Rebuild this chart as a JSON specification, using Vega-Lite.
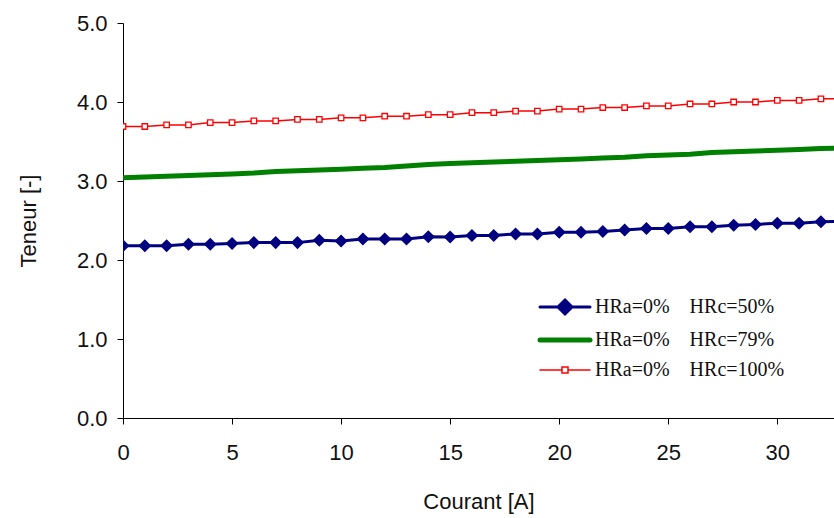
{
  "$schema": "https://vega.github.io/schema/vega-lite/v6.json",
  "width": 711,
  "height": 395,
  "autosize": {"type": "none"},
  "padding": {"left": 123, "top": 23, "right": 0, "bottom": 100},
  "background": "white",
  "config": {
    "view": {"stroke": null},
    "axis": {
      "grid": false,
      "domainColor": "#000",
      "tickColor": "#000",
      "tickSize": 6,
      "labelFont": "Liberation Sans",
      "labelFontSize": 22,
      "labelColor": "#111",
      "titleFont": "Liberation Sans",
      "titleFontSize": 22,
      "titleFontWeight": "normal",
      "titleColor": "#111",
      "labelFlush": false,
      "labelOverlap": false
    }
  },
  "data": {
    "values": [
      {"I": 0, "b": 2.18, "g": 3.04, "r": 3.69},
      {"I": 1, "b": 2.18, "g": 3.05, "r": 3.69},
      {"I": 2, "b": 2.18, "g": 3.06, "r": 3.71},
      {"I": 3, "b": 2.2, "g": 3.07, "r": 3.71},
      {"I": 4, "b": 2.2, "g": 3.08, "r": 3.74},
      {"I": 5, "b": 2.21, "g": 3.09, "r": 3.74},
      {"I": 6, "b": 2.22, "g": 3.1, "r": 3.76},
      {"I": 7, "b": 2.22, "g": 3.12, "r": 3.76},
      {"I": 8, "b": 2.22, "g": 3.13, "r": 3.78},
      {"I": 9, "b": 2.25, "g": 3.14, "r": 3.78},
      {"I": 10, "b": 2.24, "g": 3.15, "r": 3.8},
      {"I": 11, "b": 2.265, "g": 3.16, "r": 3.8},
      {"I": 12, "b": 2.265, "g": 3.17, "r": 3.82},
      {"I": 13, "b": 2.265, "g": 3.19, "r": 3.82},
      {"I": 14, "b": 2.295, "g": 3.21, "r": 3.84},
      {"I": 15, "b": 2.29, "g": 3.22, "r": 3.84},
      {"I": 16, "b": 2.31, "g": 3.23, "r": 3.865},
      {"I": 17, "b": 2.31, "g": 3.24, "r": 3.865},
      {"I": 18, "b": 2.33, "g": 3.25, "r": 3.885},
      {"I": 19, "b": 2.33, "g": 3.26, "r": 3.885},
      {"I": 20, "b": 2.35, "g": 3.27, "r": 3.91},
      {"I": 21, "b": 2.35, "g": 3.28, "r": 3.91},
      {"I": 22, "b": 2.36, "g": 3.29, "r": 3.93},
      {"I": 23, "b": 2.38, "g": 3.3, "r": 3.93},
      {"I": 24, "b": 2.4, "g": 3.32, "r": 3.95},
      {"I": 25, "b": 2.4, "g": 3.33, "r": 3.95},
      {"I": 26, "b": 2.42, "g": 3.34, "r": 3.975},
      {"I": 27, "b": 2.42, "g": 3.36, "r": 3.975},
      {"I": 28, "b": 2.44, "g": 3.37, "r": 4.0},
      {"I": 29, "b": 2.45, "g": 3.38, "r": 4.0},
      {"I": 30, "b": 2.465, "g": 3.39, "r": 4.02},
      {"I": 31, "b": 2.465, "g": 3.4, "r": 4.02},
      {"I": 32, "b": 2.485, "g": 3.41, "r": 4.04},
      {"I": 33, "b": 2.49, "g": 3.42, "r": 4.04}
    ]
  },
  "transform": [{"fold": ["b", "g", "r"], "as": ["s", "v"]}],
  "encoding": {
    "x": {
      "field": "I",
      "type": "quantitative",
      "scale": {"domain": [0, 32.6], "nice": false, "zero": false},
      "axis": {
        "values": [0, 5, 10, 15, 20, 25, 30],
        "format": "d",
        "labelPadding": 18,
        "title": "Courant [A]",
        "titlePadding": 28
      }
    },
    "y": {
      "field": "v",
      "type": "quantitative",
      "scale": {"domain": [0, 5], "nice": false},
      "axis": {
        "values": [0, 1, 2, 3, 4, 5],
        "format": ".1f",
        "labelPadding": 10,
        "title": "Teneur [-]",
        "titlePadding": 36
      }
    }
  },
  "layer": [
    {
      "transform": [{"filter": "datum.s === 'g'"}],
      "mark": {"type": "line", "clip": true, "strokeWidth": 5},
      "encoding": {
        "color": {
          "field": "s",
          "type": "nominal",
          "scale": {"domain": ["b", "g", "r"], "range": ["#000080", "#008000", "#ff0000"]},
          "legend": {
            "orient": "none",
            "legendX": 432,
            "legendY": 274,
            "title": null,
            "padding": 0,
            "symbolSize": 400,
            "rowPadding": 10,
            "labelOffset": 20,
            "labelFont": "Liberation Serif",
            "labelFontSize": 20,
            "labelColor": "#111",
            "labelLimit": 400,
            "labelExpr": "datum.value === 'b' ? 'HRa=0%\u00a0\u00a0\u00a0 HRc=50%' : datum.value === 'g' ? 'HRa=0%\u00a0\u00a0\u00a0 HRc=79%' : 'HRa=0%\u00a0\u00a0\u00a0 HRc=100%'",
            "encode": {
              "symbols": {
                "update": {
                  "shape": {"signal": "datum.value === 'b' ? 'M-2.5,0L2.5,0M0,-0.7L0.7,0L0,0.7L-0.7,0Z' : datum.value === 'g' ? 'M-2.5,0L2.5,0' : 'M-2.5,0L-0.3,0M0.3,0L2.5,0M-0.3,-0.3L0.3,-0.3L0.3,0.3L-0.3,0.3Z'"},
                  "fill": {"signal": "datum.value === 'b' ? '#000080' : datum.value === 'g' ? 'transparent' : '#ffffff'"},
                  "stroke": {"signal": "datum.value === 'b' ? '#000080' : datum.value === 'g' ? '#008000' : '#ff0000'"},
                  "strokeWidth": {"signal": "datum.value === 'b' ? 3 : datum.value === 'g' ? 5 : 1.5"},
                  "strokeCap": {"value": "round"},
                  "opacity": {"value": 1}
                }
              }
            }
          }
        }
      }
    },
    {
      "transform": [{"filter": "datum.s === 'b'"}],
      "mark": {"type": "line", "clip": true, "strokeWidth": 3},
      "encoding": {"color": {"field": "s", "type": "nominal"}}
    },
    {
      "transform": [{"filter": "datum.s === 'r'"}],
      "mark": {"type": "line", "clip": true, "strokeWidth": 1.5},
      "encoding": {"color": {"field": "s", "type": "nominal"}}
    },
    {
      "transform": [{"filter": "datum.s === 'b'"}],
      "mark": {"type": "point", "shape": "diamond", "filled": true, "color": "#000080", "size": 170, "opacity": 1, "clip": true}
    },
    {
      "transform": [{"filter": "datum.s === 'r'"}],
      "mark": {"type": "point", "shape": "square", "filled": true, "fill": "#ffffff", "stroke": "#ff0000", "strokeWidth": 1.3, "size": 30, "opacity": 1, "clip": true}
    }
  ]
}
